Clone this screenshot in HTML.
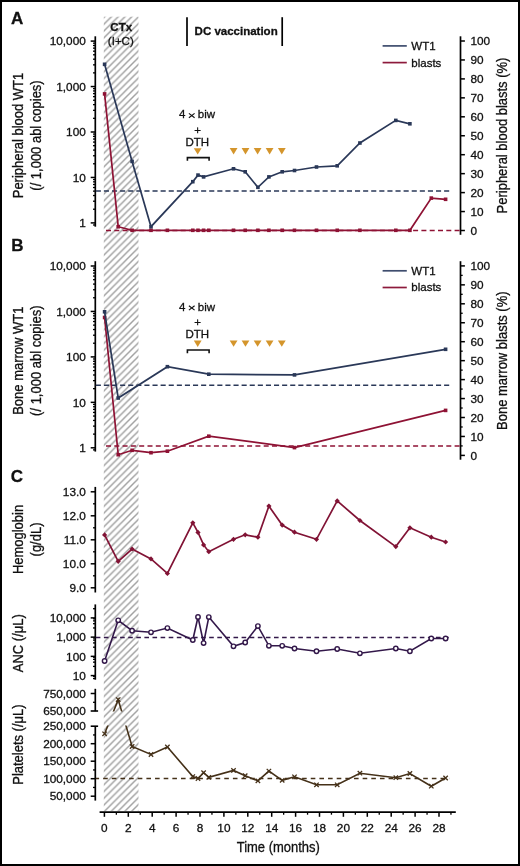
<!DOCTYPE html><html><head><meta charset="utf-8"><style>html,body{margin:0;padding:0;background:#fff;}svg{display:block;will-change:transform;}text{font-family:"Liberation Sans",sans-serif;fill:#111;stroke:#111;stroke-width:0.3px;}</style></head><body>
<svg width="520" height="866" viewBox="0 0 520 866">
<defs>
<pattern id="h" patternUnits="userSpaceOnUse" width="6.79" height="6.79" patternTransform="translate(5.9,0)"><path d="M-1,1 L1,-1 M0,6.79 L6.79,0 M5.79,7.79 L7.79,5.79" stroke="#a0a0a0" stroke-width="1.45"/></pattern>
<clipPath id="pltclip"><rect x="0" y="0" width="520" height="711.6"/><rect x="0" y="725.6" width="520" height="140"/></clipPath>
</defs>
<rect x="0" y="0" width="520" height="866" fill="#fff"/>
<rect x="103.8" y="16.7" width="34.7" height="794.2" fill="url(#h)"/>
<text x="10.9" y="24.2" font-size="17" text-anchor="start" font-weight="bold" >A</text>
<text x="11.2" y="250.6" font-size="17" text-anchor="start" font-weight="bold" >B</text>
<text x="10.7" y="482.1" font-size="17" text-anchor="start" font-weight="bold" >C</text>
<line x1="95.3" y1="36.3" x2="95.3" y2="226.7" stroke="#000" stroke-width="1.7" />
<line x1="90.7" y1="41.1" x2="95.3" y2="41.1" stroke="#000" stroke-width="1.5" />
<text x="85.8" y="45.3" font-size="11.8" text-anchor="end" font-weight="normal" >10,000</text>
<line x1="90.7" y1="86.55" x2="95.3" y2="86.55" stroke="#000" stroke-width="1.5" />
<text x="85.8" y="90.75" font-size="11.8" text-anchor="end" font-weight="normal" >1,000</text>
<line x1="90.7" y1="132" x2="95.3" y2="132" stroke="#000" stroke-width="1.5" />
<text x="85.8" y="136.2" font-size="11.8" text-anchor="end" font-weight="normal" >100</text>
<line x1="90.7" y1="177.45" x2="95.3" y2="177.45" stroke="#000" stroke-width="1.5" />
<text x="85.8" y="181.65" font-size="11.8" text-anchor="end" font-weight="normal" >10</text>
<line x1="90.7" y1="222.9" x2="95.3" y2="222.9" stroke="#000" stroke-width="1.5" />
<text x="85.8" y="227.1" font-size="11.8" text-anchor="end" font-weight="normal" >1</text>
<line x1="93" y1="72.87" x2="95.3" y2="72.87" stroke="#000" stroke-width="1.3" />
<line x1="93" y1="64.86" x2="95.3" y2="64.86" stroke="#000" stroke-width="1.3" />
<line x1="93" y1="59.19" x2="95.3" y2="59.19" stroke="#000" stroke-width="1.3" />
<line x1="93" y1="54.78" x2="95.3" y2="54.78" stroke="#000" stroke-width="1.3" />
<line x1="93" y1="51.18" x2="95.3" y2="51.18" stroke="#000" stroke-width="1.3" />
<line x1="93" y1="48.14" x2="95.3" y2="48.14" stroke="#000" stroke-width="1.3" />
<line x1="93" y1="45.5" x2="95.3" y2="45.5" stroke="#000" stroke-width="1.3" />
<line x1="93" y1="43.18" x2="95.3" y2="43.18" stroke="#000" stroke-width="1.3" />
<line x1="93" y1="118.32" x2="95.3" y2="118.32" stroke="#000" stroke-width="1.3" />
<line x1="93" y1="110.31" x2="95.3" y2="110.31" stroke="#000" stroke-width="1.3" />
<line x1="93" y1="104.64" x2="95.3" y2="104.64" stroke="#000" stroke-width="1.3" />
<line x1="93" y1="100.23" x2="95.3" y2="100.23" stroke="#000" stroke-width="1.3" />
<line x1="93" y1="96.63" x2="95.3" y2="96.63" stroke="#000" stroke-width="1.3" />
<line x1="93" y1="93.59" x2="95.3" y2="93.59" stroke="#000" stroke-width="1.3" />
<line x1="93" y1="90.95" x2="95.3" y2="90.95" stroke="#000" stroke-width="1.3" />
<line x1="93" y1="88.63" x2="95.3" y2="88.63" stroke="#000" stroke-width="1.3" />
<line x1="93" y1="163.77" x2="95.3" y2="163.77" stroke="#000" stroke-width="1.3" />
<line x1="93" y1="155.76" x2="95.3" y2="155.76" stroke="#000" stroke-width="1.3" />
<line x1="93" y1="150.09" x2="95.3" y2="150.09" stroke="#000" stroke-width="1.3" />
<line x1="93" y1="145.68" x2="95.3" y2="145.68" stroke="#000" stroke-width="1.3" />
<line x1="93" y1="142.08" x2="95.3" y2="142.08" stroke="#000" stroke-width="1.3" />
<line x1="93" y1="139.04" x2="95.3" y2="139.04" stroke="#000" stroke-width="1.3" />
<line x1="93" y1="136.4" x2="95.3" y2="136.4" stroke="#000" stroke-width="1.3" />
<line x1="93" y1="134.08" x2="95.3" y2="134.08" stroke="#000" stroke-width="1.3" />
<line x1="93" y1="209.22" x2="95.3" y2="209.22" stroke="#000" stroke-width="1.3" />
<line x1="93" y1="201.21" x2="95.3" y2="201.21" stroke="#000" stroke-width="1.3" />
<line x1="93" y1="195.54" x2="95.3" y2="195.54" stroke="#000" stroke-width="1.3" />
<line x1="93" y1="191.13" x2="95.3" y2="191.13" stroke="#000" stroke-width="1.3" />
<line x1="93" y1="187.53" x2="95.3" y2="187.53" stroke="#000" stroke-width="1.3" />
<line x1="93" y1="184.49" x2="95.3" y2="184.49" stroke="#000" stroke-width="1.3" />
<line x1="93" y1="181.85" x2="95.3" y2="181.85" stroke="#000" stroke-width="1.3" />
<line x1="93" y1="179.53" x2="95.3" y2="179.53" stroke="#000" stroke-width="1.3" />
<line x1="93" y1="224.98" x2="95.3" y2="224.98" stroke="#000" stroke-width="1.3" />
<line x1="460.5" y1="36.3" x2="460.5" y2="234.8" stroke="#000" stroke-width="1.7" />
<line x1="460.5" y1="41" x2="464.9" y2="41" stroke="#000" stroke-width="1.5" />
<text x="470.4" y="45.1" font-size="11.8" text-anchor="start" font-weight="normal" >100</text>
<line x1="460.5" y1="59.95" x2="464.9" y2="59.95" stroke="#000" stroke-width="1.5" />
<text x="470.4" y="64.05" font-size="11.8" text-anchor="start" font-weight="normal" >90</text>
<line x1="460.5" y1="78.9" x2="464.9" y2="78.9" stroke="#000" stroke-width="1.5" />
<text x="470.4" y="83" font-size="11.8" text-anchor="start" font-weight="normal" >80</text>
<line x1="460.5" y1="97.85" x2="464.9" y2="97.85" stroke="#000" stroke-width="1.5" />
<text x="470.4" y="101.95" font-size="11.8" text-anchor="start" font-weight="normal" >70</text>
<line x1="460.5" y1="116.8" x2="464.9" y2="116.8" stroke="#000" stroke-width="1.5" />
<text x="470.4" y="120.9" font-size="11.8" text-anchor="start" font-weight="normal" >60</text>
<line x1="460.5" y1="135.75" x2="464.9" y2="135.75" stroke="#000" stroke-width="1.5" />
<text x="470.4" y="139.85" font-size="11.8" text-anchor="start" font-weight="normal" >50</text>
<line x1="460.5" y1="154.7" x2="464.9" y2="154.7" stroke="#000" stroke-width="1.5" />
<text x="470.4" y="158.8" font-size="11.8" text-anchor="start" font-weight="normal" >40</text>
<line x1="460.5" y1="173.65" x2="464.9" y2="173.65" stroke="#000" stroke-width="1.5" />
<text x="470.4" y="177.75" font-size="11.8" text-anchor="start" font-weight="normal" >30</text>
<line x1="460.5" y1="192.6" x2="464.9" y2="192.6" stroke="#000" stroke-width="1.5" />
<text x="470.4" y="196.7" font-size="11.8" text-anchor="start" font-weight="normal" >20</text>
<line x1="460.5" y1="211.55" x2="464.9" y2="211.55" stroke="#000" stroke-width="1.5" />
<text x="470.4" y="215.65" font-size="11.8" text-anchor="start" font-weight="normal" >10</text>
<line x1="460.5" y1="230.5" x2="464.9" y2="230.5" stroke="#000" stroke-width="1.5" />
<text x="470.4" y="234.6" font-size="11.8" text-anchor="start" font-weight="normal" >0</text>
<text transform="translate(23,135.5) rotate(-90) scale(0.915,1)" x="0" y="0" font-size="14.2" text-anchor="middle">Peripheral blood WT1</text>
<text transform="translate(40.7,135.5) rotate(-90) scale(0.915,1)" x="0" y="0" font-size="14.2" text-anchor="middle">(/ 1,000 abl copies)</text>
<text transform="translate(507.3,135.5) rotate(-90) scale(0.915,1)" x="0" y="0" font-size="14.2" text-anchor="middle">Peripheral blood blasts (%)</text>
<line x1="382.6" y1="45.9" x2="406.8" y2="45.9" stroke="#3f4d6e" stroke-width="1.7" />
<line x1="382.6" y1="62.6" x2="406.8" y2="62.6" stroke="#8d1a3c" stroke-width="1.7" />
<text x="411.3" y="49.9" font-size="11.5" text-anchor="start" font-weight="normal" >WT1</text>
<text x="411.3" y="66.5" font-size="11.5" text-anchor="start" font-weight="normal" >blasts</text>
<text x="178.9" y="118.3" font-size="11.5" text-anchor="start" font-weight="normal" >4</text>
<text x="197.8" y="118.3" font-size="11.5" text-anchor="start" font-weight="normal" >biw</text>
<path d="M188.9 113.4 L194.6 117.7 M188.9 117.7 L194.6 113.4" stroke="#111" stroke-width="1.15" fill="none"/>
<text x="197.7" y="133.6" font-size="11.5" text-anchor="middle" font-weight="normal" >+</text>
<text x="197.3" y="145.7" font-size="11.5" text-anchor="middle" font-weight="normal" >DTH</text>
<path d="M193.8 148.2L201.6 148.2L197.7 154.6Z" fill="#d4952c"/>
<path d="M187.4 160.8 V157.6 H209.1 V160.8" fill="none" stroke="#111" stroke-width="1.6"/>
<path d="M229.7 148L237.5 148L233.6 154.4Z" fill="#d4952c"/>
<path d="M241.6 148L249.4 148L245.5 154.4Z" fill="#d4952c"/>
<path d="M253.7 148L261.5 148L257.6 154.4Z" fill="#d4952c"/>
<path d="M265.7 148L273.5 148L269.6 154.4Z" fill="#d4952c"/>
<path d="M277.9 148L285.7 148L281.8 154.4Z" fill="#d4952c"/>
<text x="121.2" y="30.8" font-size="11.5" text-anchor="middle" font-weight="bold" >CTx</text>
<text x="120.8" y="44.9" font-size="11.5" text-anchor="middle" font-weight="normal" >(I+C)</text>
<line x1="187" y1="17.2" x2="187" y2="46" stroke="#000" stroke-width="1.7" />
<line x1="282.2" y1="17.2" x2="282.2" y2="46" stroke="#000" stroke-width="1.7" />
<text x="194.6" y="35.3" font-size="11.5" text-anchor="start" font-weight="bold" >DC vaccination</text>
<line x1="95.8" y1="190.9" x2="449.5" y2="190.9" stroke="#2a3858" stroke-width="1.5" stroke-dasharray="5.1,3"/>
<line x1="106" y1="230.5" x2="460.5" y2="230.5" stroke="#8e1234" stroke-width="1.5" stroke-dasharray="5,3.3"/>
<polyline points="104.6,93.9 118.2,226.7 132.1,230.3 151,230.3 167.4,230.3 192.8,230.3 198,230.3 203.6,230.3 208.8,230.3 233.5,230.3 245.2,230.3 257.9,230.3 268.9,230.3 282.2,230.3 294.5,230.3 316.5,230.3 337.2,230.3 359.9,230.3 395.8,230.3 409.9,230.3 431.3,198.1 445.6,199.3" fill="none" stroke="#8e1234" stroke-width="1.7" stroke-linejoin="miter" />
<rect x="102.8" y="92.1" width="3.6" height="3.6" fill="#8e1234"/>
<rect x="116.4" y="224.9" width="3.6" height="3.6" fill="#8e1234"/>
<rect x="130.3" y="228.5" width="3.6" height="3.6" fill="#8e1234"/>
<rect x="149.2" y="228.5" width="3.6" height="3.6" fill="#8e1234"/>
<rect x="165.6" y="228.5" width="3.6" height="3.6" fill="#8e1234"/>
<rect x="191" y="228.5" width="3.6" height="3.6" fill="#8e1234"/>
<rect x="196.2" y="228.5" width="3.6" height="3.6" fill="#8e1234"/>
<rect x="201.8" y="228.5" width="3.6" height="3.6" fill="#8e1234"/>
<rect x="207" y="228.5" width="3.6" height="3.6" fill="#8e1234"/>
<rect x="231.7" y="228.5" width="3.6" height="3.6" fill="#8e1234"/>
<rect x="243.4" y="228.5" width="3.6" height="3.6" fill="#8e1234"/>
<rect x="256.1" y="228.5" width="3.6" height="3.6" fill="#8e1234"/>
<rect x="267.1" y="228.5" width="3.6" height="3.6" fill="#8e1234"/>
<rect x="280.4" y="228.5" width="3.6" height="3.6" fill="#8e1234"/>
<rect x="292.7" y="228.5" width="3.6" height="3.6" fill="#8e1234"/>
<rect x="314.7" y="228.5" width="3.6" height="3.6" fill="#8e1234"/>
<rect x="335.4" y="228.5" width="3.6" height="3.6" fill="#8e1234"/>
<rect x="358.1" y="228.5" width="3.6" height="3.6" fill="#8e1234"/>
<rect x="394" y="228.5" width="3.6" height="3.6" fill="#8e1234"/>
<rect x="408.1" y="228.5" width="3.6" height="3.6" fill="#8e1234"/>
<rect x="429.5" y="196.3" width="3.6" height="3.6" fill="#8e1234"/>
<rect x="443.8" y="197.5" width="3.6" height="3.6" fill="#8e1234"/>
<polyline points="104.6,64.3 132.1,161.4 151,226.7 192.8,181.7 198,175.1 203.6,176.9 233.5,168.8 245.2,171.8 257.9,187.3 268.9,176.9 282.2,171.8 294.5,170.5 316.5,167 337.2,165.8 359.9,143 395.8,120.4 409.9,123.8" fill="none" stroke="#2a3858" stroke-width="1.7" stroke-linejoin="miter" />
<rect x="102.8" y="62.5" width="3.6" height="3.6" fill="#2a3858"/>
<rect x="130.3" y="159.6" width="3.6" height="3.6" fill="#2a3858"/>
<rect x="149.2" y="224.9" width="3.6" height="3.6" fill="#2a3858"/>
<rect x="191" y="179.9" width="3.6" height="3.6" fill="#2a3858"/>
<rect x="196.2" y="173.3" width="3.6" height="3.6" fill="#2a3858"/>
<rect x="201.8" y="175.1" width="3.6" height="3.6" fill="#2a3858"/>
<rect x="231.7" y="167" width="3.6" height="3.6" fill="#2a3858"/>
<rect x="243.4" y="170" width="3.6" height="3.6" fill="#2a3858"/>
<rect x="256.1" y="185.5" width="3.6" height="3.6" fill="#2a3858"/>
<rect x="267.1" y="175.1" width="3.6" height="3.6" fill="#2a3858"/>
<rect x="280.4" y="170" width="3.6" height="3.6" fill="#2a3858"/>
<rect x="292.7" y="168.7" width="3.6" height="3.6" fill="#2a3858"/>
<rect x="314.7" y="165.2" width="3.6" height="3.6" fill="#2a3858"/>
<rect x="335.4" y="164" width="3.6" height="3.6" fill="#2a3858"/>
<rect x="358.1" y="141.2" width="3.6" height="3.6" fill="#2a3858"/>
<rect x="394" y="118.6" width="3.6" height="3.6" fill="#2a3858"/>
<rect x="408.1" y="122" width="3.6" height="3.6" fill="#2a3858"/>
<line x1="95.3" y1="261.2" x2="95.3" y2="451.6" stroke="#000" stroke-width="1.7" />
<line x1="90.7" y1="266" x2="95.3" y2="266" stroke="#000" stroke-width="1.5" />
<text x="85.8" y="270.2" font-size="11.8" text-anchor="end" font-weight="normal" >10,000</text>
<line x1="90.7" y1="311.45" x2="95.3" y2="311.45" stroke="#000" stroke-width="1.5" />
<text x="85.8" y="315.65" font-size="11.8" text-anchor="end" font-weight="normal" >1,000</text>
<line x1="90.7" y1="356.9" x2="95.3" y2="356.9" stroke="#000" stroke-width="1.5" />
<text x="85.8" y="361.1" font-size="11.8" text-anchor="end" font-weight="normal" >100</text>
<line x1="90.7" y1="402.35" x2="95.3" y2="402.35" stroke="#000" stroke-width="1.5" />
<text x="85.8" y="406.55" font-size="11.8" text-anchor="end" font-weight="normal" >10</text>
<line x1="90.7" y1="447.8" x2="95.3" y2="447.8" stroke="#000" stroke-width="1.5" />
<text x="85.8" y="452" font-size="11.8" text-anchor="end" font-weight="normal" >1</text>
<line x1="93" y1="297.77" x2="95.3" y2="297.77" stroke="#000" stroke-width="1.3" />
<line x1="93" y1="289.76" x2="95.3" y2="289.76" stroke="#000" stroke-width="1.3" />
<line x1="93" y1="284.09" x2="95.3" y2="284.09" stroke="#000" stroke-width="1.3" />
<line x1="93" y1="279.68" x2="95.3" y2="279.68" stroke="#000" stroke-width="1.3" />
<line x1="93" y1="276.08" x2="95.3" y2="276.08" stroke="#000" stroke-width="1.3" />
<line x1="93" y1="273.04" x2="95.3" y2="273.04" stroke="#000" stroke-width="1.3" />
<line x1="93" y1="270.4" x2="95.3" y2="270.4" stroke="#000" stroke-width="1.3" />
<line x1="93" y1="268.08" x2="95.3" y2="268.08" stroke="#000" stroke-width="1.3" />
<line x1="93" y1="343.22" x2="95.3" y2="343.22" stroke="#000" stroke-width="1.3" />
<line x1="93" y1="335.21" x2="95.3" y2="335.21" stroke="#000" stroke-width="1.3" />
<line x1="93" y1="329.54" x2="95.3" y2="329.54" stroke="#000" stroke-width="1.3" />
<line x1="93" y1="325.13" x2="95.3" y2="325.13" stroke="#000" stroke-width="1.3" />
<line x1="93" y1="321.53" x2="95.3" y2="321.53" stroke="#000" stroke-width="1.3" />
<line x1="93" y1="318.49" x2="95.3" y2="318.49" stroke="#000" stroke-width="1.3" />
<line x1="93" y1="315.85" x2="95.3" y2="315.85" stroke="#000" stroke-width="1.3" />
<line x1="93" y1="313.53" x2="95.3" y2="313.53" stroke="#000" stroke-width="1.3" />
<line x1="93" y1="388.67" x2="95.3" y2="388.67" stroke="#000" stroke-width="1.3" />
<line x1="93" y1="380.66" x2="95.3" y2="380.66" stroke="#000" stroke-width="1.3" />
<line x1="93" y1="374.99" x2="95.3" y2="374.99" stroke="#000" stroke-width="1.3" />
<line x1="93" y1="370.58" x2="95.3" y2="370.58" stroke="#000" stroke-width="1.3" />
<line x1="93" y1="366.98" x2="95.3" y2="366.98" stroke="#000" stroke-width="1.3" />
<line x1="93" y1="363.94" x2="95.3" y2="363.94" stroke="#000" stroke-width="1.3" />
<line x1="93" y1="361.3" x2="95.3" y2="361.3" stroke="#000" stroke-width="1.3" />
<line x1="93" y1="358.98" x2="95.3" y2="358.98" stroke="#000" stroke-width="1.3" />
<line x1="93" y1="434.12" x2="95.3" y2="434.12" stroke="#000" stroke-width="1.3" />
<line x1="93" y1="426.11" x2="95.3" y2="426.11" stroke="#000" stroke-width="1.3" />
<line x1="93" y1="420.44" x2="95.3" y2="420.44" stroke="#000" stroke-width="1.3" />
<line x1="93" y1="416.03" x2="95.3" y2="416.03" stroke="#000" stroke-width="1.3" />
<line x1="93" y1="412.43" x2="95.3" y2="412.43" stroke="#000" stroke-width="1.3" />
<line x1="93" y1="409.39" x2="95.3" y2="409.39" stroke="#000" stroke-width="1.3" />
<line x1="93" y1="406.75" x2="95.3" y2="406.75" stroke="#000" stroke-width="1.3" />
<line x1="93" y1="404.43" x2="95.3" y2="404.43" stroke="#000" stroke-width="1.3" />
<line x1="93" y1="449.88" x2="95.3" y2="449.88" stroke="#000" stroke-width="1.3" />
<line x1="460.5" y1="261.2" x2="460.5" y2="459.7" stroke="#000" stroke-width="1.7" />
<line x1="460.5" y1="265.9" x2="464.9" y2="265.9" stroke="#000" stroke-width="1.5" />
<text x="470.4" y="270" font-size="11.8" text-anchor="start" font-weight="normal" >100</text>
<line x1="460.5" y1="275.38" x2="462.7" y2="275.38" stroke="#000" stroke-width="1.3" />
<line x1="460.5" y1="284.85" x2="464.9" y2="284.85" stroke="#000" stroke-width="1.5" />
<text x="470.4" y="288.95" font-size="11.8" text-anchor="start" font-weight="normal" >90</text>
<line x1="460.5" y1="294.32" x2="462.7" y2="294.32" stroke="#000" stroke-width="1.3" />
<line x1="460.5" y1="303.8" x2="464.9" y2="303.8" stroke="#000" stroke-width="1.5" />
<text x="470.4" y="307.9" font-size="11.8" text-anchor="start" font-weight="normal" >80</text>
<line x1="460.5" y1="313.27" x2="462.7" y2="313.27" stroke="#000" stroke-width="1.3" />
<line x1="460.5" y1="322.75" x2="464.9" y2="322.75" stroke="#000" stroke-width="1.5" />
<text x="470.4" y="326.85" font-size="11.8" text-anchor="start" font-weight="normal" >70</text>
<line x1="460.5" y1="332.23" x2="462.7" y2="332.23" stroke="#000" stroke-width="1.3" />
<line x1="460.5" y1="341.7" x2="464.9" y2="341.7" stroke="#000" stroke-width="1.5" />
<text x="470.4" y="345.8" font-size="11.8" text-anchor="start" font-weight="normal" >60</text>
<line x1="460.5" y1="351.18" x2="462.7" y2="351.18" stroke="#000" stroke-width="1.3" />
<line x1="460.5" y1="360.65" x2="464.9" y2="360.65" stroke="#000" stroke-width="1.5" />
<text x="470.4" y="364.75" font-size="11.8" text-anchor="start" font-weight="normal" >50</text>
<line x1="460.5" y1="370.12" x2="462.7" y2="370.12" stroke="#000" stroke-width="1.3" />
<line x1="460.5" y1="379.6" x2="464.9" y2="379.6" stroke="#000" stroke-width="1.5" />
<text x="470.4" y="383.7" font-size="11.8" text-anchor="start" font-weight="normal" >40</text>
<line x1="460.5" y1="389.07" x2="462.7" y2="389.07" stroke="#000" stroke-width="1.3" />
<line x1="460.5" y1="398.55" x2="464.9" y2="398.55" stroke="#000" stroke-width="1.5" />
<text x="470.4" y="402.65" font-size="11.8" text-anchor="start" font-weight="normal" >30</text>
<line x1="460.5" y1="408.02" x2="462.7" y2="408.02" stroke="#000" stroke-width="1.3" />
<line x1="460.5" y1="417.5" x2="464.9" y2="417.5" stroke="#000" stroke-width="1.5" />
<text x="470.4" y="421.6" font-size="11.8" text-anchor="start" font-weight="normal" >20</text>
<line x1="460.5" y1="426.98" x2="462.7" y2="426.98" stroke="#000" stroke-width="1.3" />
<line x1="460.5" y1="436.45" x2="464.9" y2="436.45" stroke="#000" stroke-width="1.5" />
<text x="470.4" y="440.55" font-size="11.8" text-anchor="start" font-weight="normal" >10</text>
<line x1="460.5" y1="445.92" x2="462.7" y2="445.92" stroke="#000" stroke-width="1.3" />
<line x1="460.5" y1="455.4" x2="464.9" y2="455.4" stroke="#000" stroke-width="1.5" />
<text x="470.4" y="459.5" font-size="11.8" text-anchor="start" font-weight="normal" >0</text>
<text transform="translate(23,360.7) rotate(-90) scale(0.915,1)" x="0" y="0" font-size="14.2" text-anchor="middle">Bone marrow WT1</text>
<text transform="translate(40.7,360.7) rotate(-90) scale(0.915,1)" x="0" y="0" font-size="14.2" text-anchor="middle">(/ 1,000 abl copies)</text>
<text transform="translate(507.3,360.7) rotate(-90) scale(0.915,1)" x="0" y="0" font-size="14.2" text-anchor="middle">Bone marrow blasts (%)</text>
<line x1="382.6" y1="270.8" x2="406.8" y2="270.8" stroke="#3f4d6e" stroke-width="1.7" />
<line x1="382.6" y1="287.5" x2="406.8" y2="287.5" stroke="#8d1a3c" stroke-width="1.7" />
<text x="411.3" y="274.8" font-size="11.5" text-anchor="start" font-weight="normal" >WT1</text>
<text x="411.3" y="291.4" font-size="11.5" text-anchor="start" font-weight="normal" >blasts</text>
<text x="178.9" y="310.7" font-size="11.5" text-anchor="start" font-weight="normal" >4</text>
<text x="197.8" y="310.7" font-size="11.5" text-anchor="start" font-weight="normal" >biw</text>
<path d="M188.9 305.8 L194.6 310.1 M188.9 310.1 L194.6 305.8" stroke="#111" stroke-width="1.15" fill="none"/>
<text x="197.7" y="326" font-size="11.5" text-anchor="middle" font-weight="normal" >+</text>
<text x="197.3" y="338.1" font-size="11.5" text-anchor="middle" font-weight="normal" >DTH</text>
<path d="M193.8 340.6L201.6 340.6L197.7 347Z" fill="#d4952c"/>
<path d="M187.4 353.2 V350 H209.1 V353.2" fill="none" stroke="#111" stroke-width="1.6"/>
<path d="M229.7 340.4L237.5 340.4L233.6 346.8Z" fill="#d4952c"/>
<path d="M241.6 340.4L249.4 340.4L245.5 346.8Z" fill="#d4952c"/>
<path d="M253.7 340.4L261.5 340.4L257.6 346.8Z" fill="#d4952c"/>
<path d="M265.7 340.4L273.5 340.4L269.6 346.8Z" fill="#d4952c"/>
<path d="M277.9 340.4L285.7 340.4L281.8 346.8Z" fill="#d4952c"/>
<line x1="95.8" y1="385.3" x2="449.5" y2="385.3" stroke="#2a3858" stroke-width="1.5" stroke-dasharray="5.1,3"/>
<line x1="106" y1="445.9" x2="460.5" y2="445.9" stroke="#8e1234" stroke-width="1.5" stroke-dasharray="5,3.3"/>
<polyline points="104.6,317.5 118.2,454.7 132.1,450.3 151,452.7 167.4,451.2 208.8,436.2 294.5,447.6 445.6,410.4" fill="none" stroke="#8e1234" stroke-width="1.7" stroke-linejoin="miter" />
<rect x="102.8" y="315.7" width="3.6" height="3.6" fill="#8e1234"/>
<rect x="116.4" y="452.9" width="3.6" height="3.6" fill="#8e1234"/>
<rect x="130.3" y="448.5" width="3.6" height="3.6" fill="#8e1234"/>
<rect x="149.2" y="450.9" width="3.6" height="3.6" fill="#8e1234"/>
<rect x="165.6" y="449.4" width="3.6" height="3.6" fill="#8e1234"/>
<rect x="207" y="434.4" width="3.6" height="3.6" fill="#8e1234"/>
<rect x="292.7" y="445.8" width="3.6" height="3.6" fill="#8e1234"/>
<rect x="443.8" y="408.6" width="3.6" height="3.6" fill="#8e1234"/>
<polyline points="104.6,311.8 118.2,398 167.4,366.7 208.8,374.2 294.5,374.9 445.6,349.3" fill="none" stroke="#2a3858" stroke-width="1.7" stroke-linejoin="miter" />
<rect x="102.8" y="310" width="3.6" height="3.6" fill="#2a3858"/>
<rect x="116.4" y="396.2" width="3.6" height="3.6" fill="#2a3858"/>
<rect x="165.6" y="364.9" width="3.6" height="3.6" fill="#2a3858"/>
<rect x="207" y="372.4" width="3.6" height="3.6" fill="#2a3858"/>
<rect x="292.7" y="373.1" width="3.6" height="3.6" fill="#2a3858"/>
<rect x="443.8" y="347.5" width="3.6" height="3.6" fill="#2a3858"/>
<line x1="95.3" y1="486.9" x2="95.3" y2="592.5" stroke="#000" stroke-width="1.7" />
<line x1="90.7" y1="491.8" x2="95.3" y2="491.8" stroke="#000" stroke-width="1.5" />
<text x="85.8" y="495.9" font-size="11.8" text-anchor="end" font-weight="normal" >13.0</text>
<line x1="93" y1="503.8" x2="95.3" y2="503.8" stroke="#000" stroke-width="1.3" />
<line x1="90.7" y1="515.8" x2="95.3" y2="515.8" stroke="#000" stroke-width="1.5" />
<text x="85.8" y="519.9" font-size="11.8" text-anchor="end" font-weight="normal" >12.0</text>
<line x1="93" y1="527.8" x2="95.3" y2="527.8" stroke="#000" stroke-width="1.3" />
<line x1="90.7" y1="539.8" x2="95.3" y2="539.8" stroke="#000" stroke-width="1.5" />
<text x="85.8" y="543.9" font-size="11.8" text-anchor="end" font-weight="normal" >11.0</text>
<line x1="93" y1="551.8" x2="95.3" y2="551.8" stroke="#000" stroke-width="1.3" />
<line x1="90.7" y1="563.8" x2="95.3" y2="563.8" stroke="#000" stroke-width="1.5" />
<text x="85.8" y="567.9" font-size="11.8" text-anchor="end" font-weight="normal" >10.0</text>
<line x1="93" y1="575.8" x2="95.3" y2="575.8" stroke="#000" stroke-width="1.3" />
<line x1="90.7" y1="587.8" x2="95.3" y2="587.8" stroke="#000" stroke-width="1.5" />
<text x="85.8" y="591.9" font-size="11.8" text-anchor="end" font-weight="normal" >9.0</text>
<text transform="translate(23.1,539.5) rotate(-90) scale(0.915,1)" x="0" y="0" font-size="14.2" text-anchor="middle">Hemoglobin</text>
<text transform="translate(40.8,539.5) rotate(-90) scale(0.915,1)" x="0" y="0" font-size="14.2" text-anchor="middle">(g/dL)</text>
<polyline points="104.6,534.9 118.2,561.3 132.1,549 151,558.9 167.4,573.5 192.8,522.8 198,532.4 203.6,544.9 208.8,551.7 233.5,539.3 245.2,534.8 257.9,537.2 268.9,506.1 282.2,525.1 294.5,532.2 316.5,539.3 337.2,500.9 359.9,520.5 395.8,546.6 409.9,527.8 431.3,537.2 445.6,542" fill="none" stroke="#811335" stroke-width="1.7" stroke-linejoin="miter" />
<path d="M104.6 532.3L107.2 534.9L104.6 537.5L102 534.9Z" fill="#811335"/>
<path d="M118.2 558.7L120.8 561.3L118.2 563.9L115.6 561.3Z" fill="#811335"/>
<path d="M132.1 546.4L134.7 549L132.1 551.6L129.5 549Z" fill="#811335"/>
<path d="M151 556.3L153.6 558.9L151 561.5L148.4 558.9Z" fill="#811335"/>
<path d="M167.4 570.9L170 573.5L167.4 576.1L164.8 573.5Z" fill="#811335"/>
<path d="M192.8 520.2L195.4 522.8L192.8 525.4L190.2 522.8Z" fill="#811335"/>
<path d="M198 529.8L200.6 532.4L198 535L195.4 532.4Z" fill="#811335"/>
<path d="M203.6 542.3L206.2 544.9L203.6 547.5L201 544.9Z" fill="#811335"/>
<path d="M208.8 549.1L211.4 551.7L208.8 554.3L206.2 551.7Z" fill="#811335"/>
<path d="M233.5 536.7L236.1 539.3L233.5 541.9L230.9 539.3Z" fill="#811335"/>
<path d="M245.2 532.2L247.8 534.8L245.2 537.4L242.6 534.8Z" fill="#811335"/>
<path d="M257.9 534.6L260.5 537.2L257.9 539.8L255.3 537.2Z" fill="#811335"/>
<path d="M268.9 503.5L271.5 506.1L268.9 508.7L266.3 506.1Z" fill="#811335"/>
<path d="M282.2 522.5L284.8 525.1L282.2 527.7L279.6 525.1Z" fill="#811335"/>
<path d="M294.5 529.6L297.1 532.2L294.5 534.8L291.9 532.2Z" fill="#811335"/>
<path d="M316.5 536.7L319.1 539.3L316.5 541.9L313.9 539.3Z" fill="#811335"/>
<path d="M337.2 498.3L339.8 500.9L337.2 503.5L334.6 500.9Z" fill="#811335"/>
<path d="M359.9 517.9L362.5 520.5L359.9 523.1L357.3 520.5Z" fill="#811335"/>
<path d="M395.8 544L398.4 546.6L395.8 549.2L393.2 546.6Z" fill="#811335"/>
<path d="M409.9 525.2L412.5 527.8L409.9 530.4L407.3 527.8Z" fill="#811335"/>
<path d="M431.3 534.6L433.9 537.2L431.3 539.8L428.7 537.2Z" fill="#811335"/>
<path d="M445.6 539.4L448.2 542L445.6 544.6L443 542Z" fill="#811335"/>
<line x1="95.3" y1="604.4" x2="95.3" y2="679.7" stroke="#000" stroke-width="1.7" />
<line x1="90.7" y1="617.9" x2="95.3" y2="617.9" stroke="#000" stroke-width="1.5" />
<text x="85.8" y="622.1" font-size="11.8" text-anchor="end" font-weight="normal" >10,000</text>
<line x1="90.7" y1="637.13" x2="95.3" y2="637.13" stroke="#000" stroke-width="1.5" />
<text x="85.8" y="641.33" font-size="11.8" text-anchor="end" font-weight="normal" >1,000</text>
<line x1="90.7" y1="656.36" x2="95.3" y2="656.36" stroke="#000" stroke-width="1.5" />
<text x="85.8" y="660.56" font-size="11.8" text-anchor="end" font-weight="normal" >100</text>
<line x1="90.7" y1="675.59" x2="95.3" y2="675.59" stroke="#000" stroke-width="1.5" />
<text x="85.8" y="679.79" font-size="11.8" text-anchor="end" font-weight="normal" >10</text>
<line x1="93" y1="608.72" x2="95.3" y2="608.72" stroke="#000" stroke-width="1.3" />
<line x1="93" y1="627.95" x2="95.3" y2="627.95" stroke="#000" stroke-width="1.3" />
<line x1="93" y1="623.69" x2="95.3" y2="623.69" stroke="#000" stroke-width="1.3" />
<line x1="93" y1="620.88" x2="95.3" y2="620.88" stroke="#000" stroke-width="1.3" />
<line x1="93" y1="618.78" x2="95.3" y2="618.78" stroke="#000" stroke-width="1.3" />
<line x1="93" y1="647.18" x2="95.3" y2="647.18" stroke="#000" stroke-width="1.3" />
<line x1="93" y1="642.92" x2="95.3" y2="642.92" stroke="#000" stroke-width="1.3" />
<line x1="93" y1="640.11" x2="95.3" y2="640.11" stroke="#000" stroke-width="1.3" />
<line x1="93" y1="638.01" x2="95.3" y2="638.01" stroke="#000" stroke-width="1.3" />
<line x1="93" y1="666.41" x2="95.3" y2="666.41" stroke="#000" stroke-width="1.3" />
<line x1="93" y1="662.15" x2="95.3" y2="662.15" stroke="#000" stroke-width="1.3" />
<line x1="93" y1="659.34" x2="95.3" y2="659.34" stroke="#000" stroke-width="1.3" />
<line x1="93" y1="657.24" x2="95.3" y2="657.24" stroke="#000" stroke-width="1.3" />
<line x1="93" y1="678.57" x2="95.3" y2="678.57" stroke="#000" stroke-width="1.3" />
<line x1="93" y1="676.47" x2="95.3" y2="676.47" stroke="#000" stroke-width="1.3" />
<text transform="translate(23.1,643.2) rotate(-90) scale(0.915,1)" x="0" y="0" font-size="14.2" text-anchor="middle">ANC (/&#956;L)</text>
<line x1="95.8" y1="637.6" x2="449.3" y2="637.6" stroke="#33184a" stroke-width="1.5" stroke-dasharray="4.6,3.5"/>
<polyline points="104.6,661 118.2,620.3 132.1,630.7 151,632.3 167.4,628.1 192.8,640 198,617 203.6,643.1 208.8,617.1 233.5,646.3 245.2,642.5 257.9,626.1 268.9,645.8 282.2,645.8 294.5,648.5 316.5,651.2 337.2,649 359.9,653.3 395.8,648.5 409.9,651.2 431.3,638.5 445.6,638.5" fill="none" stroke="#33184a" stroke-width="1.6" stroke-linejoin="miter" />
<circle cx="104.6" cy="661" r="2.2" fill="#fff" stroke="#33184a" stroke-width="1.45"/>
<circle cx="118.2" cy="620.3" r="2.2" fill="#fff" stroke="#33184a" stroke-width="1.45"/>
<circle cx="132.1" cy="630.7" r="2.2" fill="#fff" stroke="#33184a" stroke-width="1.45"/>
<circle cx="151" cy="632.3" r="2.2" fill="#fff" stroke="#33184a" stroke-width="1.45"/>
<circle cx="167.4" cy="628.1" r="2.2" fill="#fff" stroke="#33184a" stroke-width="1.45"/>
<circle cx="192.8" cy="640" r="2.2" fill="#fff" stroke="#33184a" stroke-width="1.45"/>
<circle cx="198" cy="617" r="2.2" fill="#fff" stroke="#33184a" stroke-width="1.45"/>
<circle cx="203.6" cy="643.1" r="2.2" fill="#fff" stroke="#33184a" stroke-width="1.45"/>
<circle cx="208.8" cy="617.1" r="2.2" fill="#fff" stroke="#33184a" stroke-width="1.45"/>
<circle cx="233.5" cy="646.3" r="2.2" fill="#fff" stroke="#33184a" stroke-width="1.45"/>
<circle cx="245.2" cy="642.5" r="2.2" fill="#fff" stroke="#33184a" stroke-width="1.45"/>
<circle cx="257.9" cy="626.1" r="2.2" fill="#fff" stroke="#33184a" stroke-width="1.45"/>
<circle cx="268.9" cy="645.8" r="2.2" fill="#fff" stroke="#33184a" stroke-width="1.45"/>
<circle cx="282.2" cy="645.8" r="2.2" fill="#fff" stroke="#33184a" stroke-width="1.45"/>
<circle cx="294.5" cy="648.5" r="2.2" fill="#fff" stroke="#33184a" stroke-width="1.45"/>
<circle cx="316.5" cy="651.2" r="2.2" fill="#fff" stroke="#33184a" stroke-width="1.45"/>
<circle cx="337.2" cy="649" r="2.2" fill="#fff" stroke="#33184a" stroke-width="1.45"/>
<circle cx="359.9" cy="653.3" r="2.2" fill="#fff" stroke="#33184a" stroke-width="1.45"/>
<circle cx="395.8" cy="648.5" r="2.2" fill="#fff" stroke="#33184a" stroke-width="1.45"/>
<circle cx="409.9" cy="651.2" r="2.2" fill="#fff" stroke="#33184a" stroke-width="1.45"/>
<circle cx="431.3" cy="638.5" r="2.2" fill="#fff" stroke="#33184a" stroke-width="1.45"/>
<circle cx="445.6" cy="638.5" r="2.2" fill="#fff" stroke="#33184a" stroke-width="1.45"/>
<line x1="95.3" y1="688.8" x2="95.3" y2="711.2" stroke="#000" stroke-width="1.7" />
<line x1="90.7" y1="693.5" x2="95.3" y2="693.5" stroke="#000" stroke-width="1.5" />
<line x1="93" y1="702.3" x2="95.3" y2="702.3" stroke="#000" stroke-width="1.3" />
<line x1="90.7" y1="711" x2="98.1" y2="711" stroke="#000" stroke-width="1.6" />
<text x="85.8" y="697.6" font-size="11.8" text-anchor="end" font-weight="normal" >750,000</text>
<text x="85.8" y="715.1" font-size="11.8" text-anchor="end" font-weight="normal" >650,000</text>
<line x1="95.3" y1="726.2" x2="95.3" y2="800.6" stroke="#000" stroke-width="1.7" />
<line x1="90.7" y1="726.2" x2="98.1" y2="726.2" stroke="#000" stroke-width="1.6" />
<text x="85.8" y="730.3" font-size="11.8" text-anchor="end" font-weight="normal" >250,000</text>
<line x1="93" y1="734.95" x2="95.3" y2="734.95" stroke="#000" stroke-width="1.3" />
<line x1="90.7" y1="743.7" x2="95.3" y2="743.7" stroke="#000" stroke-width="1.5" />
<text x="85.8" y="747.8" font-size="11.8" text-anchor="end" font-weight="normal" >200,000</text>
<line x1="93" y1="752.45" x2="95.3" y2="752.45" stroke="#000" stroke-width="1.3" />
<line x1="90.7" y1="761.2" x2="95.3" y2="761.2" stroke="#000" stroke-width="1.5" />
<text x="85.8" y="765.3" font-size="11.8" text-anchor="end" font-weight="normal" >150,000</text>
<line x1="93" y1="769.95" x2="95.3" y2="769.95" stroke="#000" stroke-width="1.3" />
<line x1="90.7" y1="778.7" x2="95.3" y2="778.7" stroke="#000" stroke-width="1.5" />
<text x="85.8" y="782.8" font-size="11.8" text-anchor="end" font-weight="normal" >100,000</text>
<line x1="93" y1="787.45" x2="95.3" y2="787.45" stroke="#000" stroke-width="1.3" />
<line x1="90.7" y1="796.2" x2="95.3" y2="796.2" stroke="#000" stroke-width="1.5" />
<text x="85.8" y="800.3" font-size="11.8" text-anchor="end" font-weight="normal" >50,000</text>
<text transform="translate(23.1,744.6) rotate(-90) scale(0.915,1)" x="0" y="0" font-size="14.2" text-anchor="middle">Platelets (/&#956;L)</text>
<line x1="95.8" y1="778.6" x2="449.3" y2="778.6" stroke="#453119" stroke-width="1.5" stroke-dasharray="4.6,4.05" stroke-dashoffset="1.3"/>
<polyline points="104.6,733.8 118.2,699.6 132.1,746.5 151,754.5 167.4,747 192.8,776.6 198,778.5 203.6,772.7 208.8,777.3 233.5,770.4 245.2,775.7 257.9,780.8 268.9,771.1 282.2,780.3 294.5,776.8 316.5,784.8 337.2,784.8 359.9,773.2 395.8,777.7 409.9,773.5 431.3,786.2 445.6,778" fill="none" stroke="#453119" stroke-width="1.6" stroke-linejoin="miter" clip-path="url(#pltclip)"/>
<path d="M102.4 731.6L106.8 736M102.4 736L106.8 731.6" stroke="#453119" stroke-width="1.3" fill="none"/>
<path d="M116 697.4L120.4 701.8M116 701.8L120.4 697.4" stroke="#453119" stroke-width="1.3" fill="none"/>
<path d="M129.9 744.3L134.3 748.7M129.9 748.7L134.3 744.3" stroke="#453119" stroke-width="1.3" fill="none"/>
<path d="M148.8 752.3L153.2 756.7M148.8 756.7L153.2 752.3" stroke="#453119" stroke-width="1.3" fill="none"/>
<path d="M165.2 744.8L169.6 749.2M165.2 749.2L169.6 744.8" stroke="#453119" stroke-width="1.3" fill="none"/>
<path d="M190.6 774.4L195 778.8M190.6 778.8L195 774.4" stroke="#453119" stroke-width="1.3" fill="none"/>
<path d="M195.8 776.3L200.2 780.7M195.8 780.7L200.2 776.3" stroke="#453119" stroke-width="1.3" fill="none"/>
<path d="M201.4 770.5L205.8 774.9M201.4 774.9L205.8 770.5" stroke="#453119" stroke-width="1.3" fill="none"/>
<path d="M206.6 775.1L211 779.5M206.6 779.5L211 775.1" stroke="#453119" stroke-width="1.3" fill="none"/>
<path d="M231.3 768.2L235.7 772.6M231.3 772.6L235.7 768.2" stroke="#453119" stroke-width="1.3" fill="none"/>
<path d="M243 773.5L247.4 777.9M243 777.9L247.4 773.5" stroke="#453119" stroke-width="1.3" fill="none"/>
<path d="M255.7 778.6L260.1 783M255.7 783L260.1 778.6" stroke="#453119" stroke-width="1.3" fill="none"/>
<path d="M266.7 768.9L271.1 773.3M266.7 773.3L271.1 768.9" stroke="#453119" stroke-width="1.3" fill="none"/>
<path d="M280 778.1L284.4 782.5M280 782.5L284.4 778.1" stroke="#453119" stroke-width="1.3" fill="none"/>
<path d="M292.3 774.6L296.7 779M292.3 779L296.7 774.6" stroke="#453119" stroke-width="1.3" fill="none"/>
<path d="M314.3 782.6L318.7 787M314.3 787L318.7 782.6" stroke="#453119" stroke-width="1.3" fill="none"/>
<path d="M335 782.6L339.4 787M335 787L339.4 782.6" stroke="#453119" stroke-width="1.3" fill="none"/>
<path d="M357.7 771L362.1 775.4M357.7 775.4L362.1 771" stroke="#453119" stroke-width="1.3" fill="none"/>
<path d="M393.6 775.5L398 779.9M393.6 779.9L398 775.5" stroke="#453119" stroke-width="1.3" fill="none"/>
<path d="M407.7 771.3L412.1 775.7M407.7 775.7L412.1 771.3" stroke="#453119" stroke-width="1.3" fill="none"/>
<path d="M429.1 784L433.5 788.4M429.1 788.4L433.5 784" stroke="#453119" stroke-width="1.3" fill="none"/>
<path d="M443.4 775.8L447.8 780.2M443.4 780.2L447.8 775.8" stroke="#453119" stroke-width="1.3" fill="none"/>
<line x1="99.6" y1="812.2" x2="455.8" y2="812.2" stroke="#000" stroke-width="1.8" />
<line x1="104.4" y1="812.2" x2="104.4" y2="816.8" stroke="#000" stroke-width="1.5" />
<text x="104.4" y="831.9" font-size="11.8" text-anchor="middle" font-weight="normal" >0</text>
<line x1="116.35" y1="812.2" x2="116.35" y2="814.7" stroke="#000" stroke-width="1.3" />
<line x1="128.3" y1="812.2" x2="128.3" y2="816.8" stroke="#000" stroke-width="1.5" />
<text x="128.3" y="831.9" font-size="11.8" text-anchor="middle" font-weight="normal" >2</text>
<line x1="140.25" y1="812.2" x2="140.25" y2="814.7" stroke="#000" stroke-width="1.3" />
<line x1="152.2" y1="812.2" x2="152.2" y2="816.8" stroke="#000" stroke-width="1.5" />
<text x="152.2" y="831.9" font-size="11.8" text-anchor="middle" font-weight="normal" >4</text>
<line x1="164.15" y1="812.2" x2="164.15" y2="814.7" stroke="#000" stroke-width="1.3" />
<line x1="176.1" y1="812.2" x2="176.1" y2="816.8" stroke="#000" stroke-width="1.5" />
<text x="176.1" y="831.9" font-size="11.8" text-anchor="middle" font-weight="normal" >6</text>
<line x1="188.05" y1="812.2" x2="188.05" y2="814.7" stroke="#000" stroke-width="1.3" />
<line x1="200" y1="812.2" x2="200" y2="816.8" stroke="#000" stroke-width="1.5" />
<text x="200" y="831.9" font-size="11.8" text-anchor="middle" font-weight="normal" >8</text>
<line x1="211.95" y1="812.2" x2="211.95" y2="814.7" stroke="#000" stroke-width="1.3" />
<line x1="223.9" y1="812.2" x2="223.9" y2="816.8" stroke="#000" stroke-width="1.5" />
<text x="223.9" y="831.9" font-size="11.8" text-anchor="middle" font-weight="normal" >10</text>
<line x1="235.85" y1="812.2" x2="235.85" y2="814.7" stroke="#000" stroke-width="1.3" />
<line x1="247.8" y1="812.2" x2="247.8" y2="816.8" stroke="#000" stroke-width="1.5" />
<text x="247.8" y="831.9" font-size="11.8" text-anchor="middle" font-weight="normal" >12</text>
<line x1="259.75" y1="812.2" x2="259.75" y2="814.7" stroke="#000" stroke-width="1.3" />
<line x1="271.7" y1="812.2" x2="271.7" y2="816.8" stroke="#000" stroke-width="1.5" />
<text x="271.7" y="831.9" font-size="11.8" text-anchor="middle" font-weight="normal" >14</text>
<line x1="283.65" y1="812.2" x2="283.65" y2="814.7" stroke="#000" stroke-width="1.3" />
<line x1="295.6" y1="812.2" x2="295.6" y2="816.8" stroke="#000" stroke-width="1.5" />
<text x="295.6" y="831.9" font-size="11.8" text-anchor="middle" font-weight="normal" >16</text>
<line x1="307.55" y1="812.2" x2="307.55" y2="814.7" stroke="#000" stroke-width="1.3" />
<line x1="319.5" y1="812.2" x2="319.5" y2="816.8" stroke="#000" stroke-width="1.5" />
<text x="319.5" y="831.9" font-size="11.8" text-anchor="middle" font-weight="normal" >18</text>
<line x1="331.45" y1="812.2" x2="331.45" y2="814.7" stroke="#000" stroke-width="1.3" />
<line x1="343.4" y1="812.2" x2="343.4" y2="816.8" stroke="#000" stroke-width="1.5" />
<text x="343.4" y="831.9" font-size="11.8" text-anchor="middle" font-weight="normal" >20</text>
<line x1="355.35" y1="812.2" x2="355.35" y2="814.7" stroke="#000" stroke-width="1.3" />
<line x1="367.3" y1="812.2" x2="367.3" y2="816.8" stroke="#000" stroke-width="1.5" />
<text x="367.3" y="831.9" font-size="11.8" text-anchor="middle" font-weight="normal" >22</text>
<line x1="379.25" y1="812.2" x2="379.25" y2="814.7" stroke="#000" stroke-width="1.3" />
<line x1="391.2" y1="812.2" x2="391.2" y2="816.8" stroke="#000" stroke-width="1.5" />
<text x="391.2" y="831.9" font-size="11.8" text-anchor="middle" font-weight="normal" >24</text>
<line x1="403.15" y1="812.2" x2="403.15" y2="814.7" stroke="#000" stroke-width="1.3" />
<line x1="415.1" y1="812.2" x2="415.1" y2="816.8" stroke="#000" stroke-width="1.5" />
<text x="415.1" y="831.9" font-size="11.8" text-anchor="middle" font-weight="normal" >26</text>
<line x1="427.05" y1="812.2" x2="427.05" y2="814.7" stroke="#000" stroke-width="1.3" />
<line x1="439" y1="812.2" x2="439" y2="816.8" stroke="#000" stroke-width="1.5" />
<text x="439" y="831.9" font-size="11.8" text-anchor="middle" font-weight="normal" >28</text>
<line x1="450.95" y1="812.2" x2="450.95" y2="814.7" stroke="#000" stroke-width="1.3" />
<text transform="translate(278.3,852.2) scale(0.915,1)" x="0" y="0" font-size="14.2" text-anchor="middle">Time (months)</text>
<rect x="1" y="1" width="518" height="864" fill="none" stroke="#000" stroke-width="2"/>
</svg></body></html>
